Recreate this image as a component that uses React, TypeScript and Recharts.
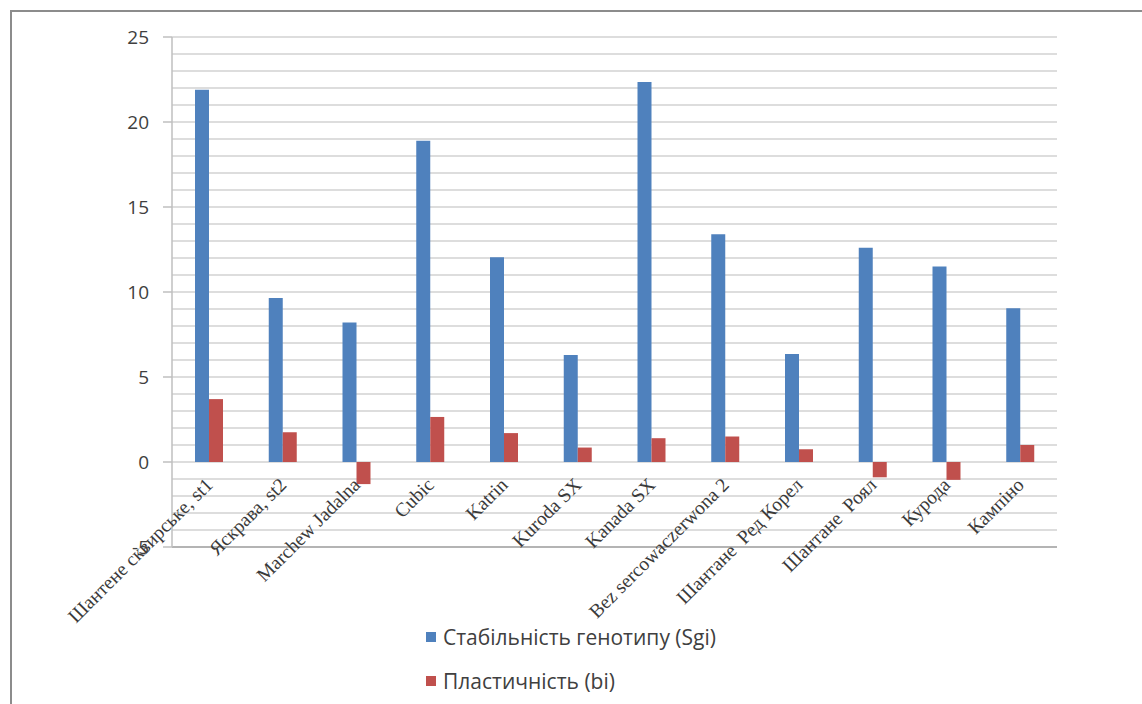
import React from 'react';
import { Bar, BarChart, CartesianGrid, XAxis, YAxis } from 'recharts';

const CATEGORIES = [
  'Шантене сквирське, st1',
  'Яскрава, st2',
  'Marchew Jadalna',
  'Cubic',
  'Katrin',
  'Kuroda SX',
  'Kanada SX',
  'Bez sercowaczerwona 2',
  'Шантане  Ред Корел',
  'Шантане  Роял',
  'Курода',
  'Кампіно',
];
const STABILITY = [21.9, 9.65, 8.2, 18.9, 12.05, 6.3, 22.35, 13.4, 6.35, 12.6, 11.5, 9.05];
const PLASTICITY = [3.7, 1.75, -1.3, 2.65, 1.7, 0.85, 1.4, 1.5, 0.75, -0.9, -1.05, 1.0];
const MAJOR_TICKS = [-5, 0, 5, 10, 15, 20, 25];
const MINOR_TICKS = [-5, -4, -3, -2, -1, 0, 1, 2, 3, 4, 5, 6, 7, 8, 9, 10, 11, 12, 13, 14, 15, 16, 17, 18, 19, 20, 21, 22, 23, 24, 25];
const SERIES_NAMES = ['Стабільність генотипу (Sgi)', 'Пластичність (bi)'];

const BLUE = '#4f81bd';
const RED = '#c0504d';

const W = 1142;
const H = 704;
const PLOT_TOP = 37;
const PLOT_BOTTOM = 547;
const Y_MIN = -5;
const Y_MAX = 25;
// x labels sit on the zero line, Excel style
const ZERO_Y = PLOT_TOP + ((PLOT_BOTTOM - PLOT_TOP) * Y_MAX) / (Y_MAX - Y_MIN);

const data = CATEGORIES.map((name, i) => ({
  name,
  sgi: STABILITY[i],
  bi: PLASTICITY[i],
}));

function CategoryTick(props: any) {
  const { x, payload } = props;
  const tx = x + 5;
  const ty = ZERO_Y + 24;
  return (
    <text
      x={tx}
      y={ty}
      transform={`rotate(-45 ${tx} ${ty})`}
      textAnchor="end"
      fontFamily="'Liberation Serif', serif"
      fontSize={19.5}
      fill="#3a3a3a"
      style={{ whiteSpace: 'pre' }}
    >
      {payload.value}
    </text>
  );
}

// minor gridlines every 1 unit
function gridRows({ offset }: any) {
  return MINOR_TICKS.map((t) => offset.top + (offset.height * (Y_MAX - t)) / (Y_MAX - Y_MIN));
}

export default function App() {
  return (
    <div style={{ position: 'absolute', left: 0, top: 0, width: W, height: H, background: '#fff', overflow: 'hidden' }}>
      <div
        style={{
          position: 'absolute',
          left: 10,
          top: 10,
          width: W,
          height: H,
          borderTop: '2px solid #8c8c8c',
          borderLeft: '2px solid #8c8c8c',
        }}
      />
      <div style={{ position: 'absolute', left: 0, top: 0 }}>
        <BarChart
          width={W}
          height={H}
          data={data}
          margin={{ top: PLOT_TOP, right: 85, left: 112, bottom: H - PLOT_BOTTOM - 30 }}
          barSize={14}
          barGap={0}
        >
          <CartesianGrid
            vertical={false}
            stroke="#d2d2d2"
            strokeWidth={1.5}
            horizontalCoordinatesGenerator={gridRows}
          />
          <XAxis
            dataKey="name"
            height={30}
            interval={0}
            tickLine={false}
            axisLine={{ stroke: '#a6a6a6', strokeWidth: 1.5 }}
            tick={<CategoryTick />}
          />
          <YAxis
            width={60}
            domain={[Y_MIN, Y_MAX]}
            ticks={MAJOR_TICKS}
            interval={0}
            tickSize={9}
            tickMargin={14}
            tickLine={{ stroke: '#bfbfbf', strokeWidth: 1.5 }}
            axisLine={{ stroke: '#bfbfbf', strokeWidth: 1.5 }}
            tick={{ fontFamily: "'Open Sans', sans-serif", fontSize: 19, fill: '#404040' }}
          />
          <Bar dataKey="sgi" name={SERIES_NAMES[0]} fill={BLUE} isAnimationActive={false} />
          <Bar dataKey="bi" name={SERIES_NAMES[1]} fill={RED} isAnimationActive={false} />
        </BarChart>
      </div>
      {SERIES_NAMES.map((label, i) => (
        <div
          key={label}
          style={{
            position: 'absolute',
            left: 426,
            top: 623 + i * 44,
            height: 28,
            lineHeight: '28px',
            display: 'flex',
            alignItems: 'center',
            fontFamily: "'Open Sans', sans-serif",
            fontSize: 21,
            color: '#404040',
          }}
        >
          <span style={{ display: 'inline-block', width: 10, height: 10, background: i === 0 ? BLUE : RED, marginRight: 7 }} />
          {label}
        </div>
      ))}
    </div>
  );
}
